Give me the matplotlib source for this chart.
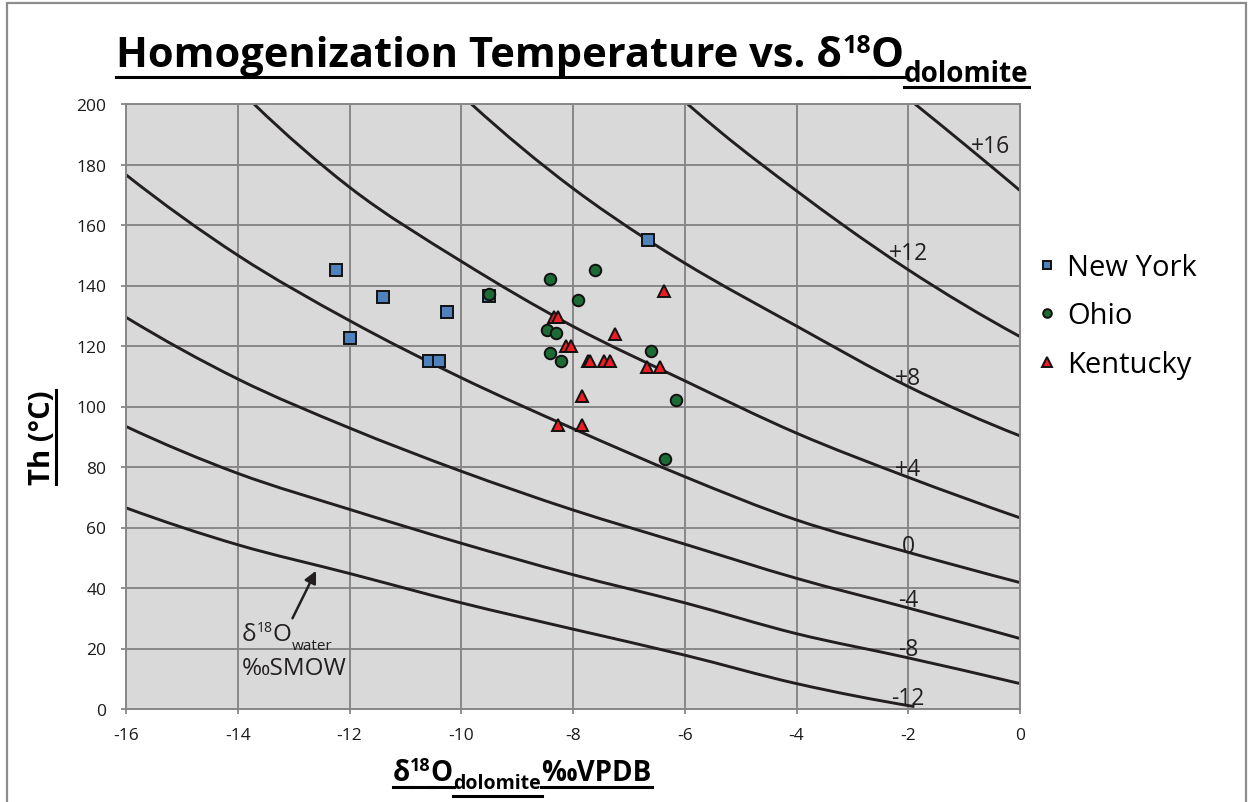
import matplotlib
matplotlib.use("Agg")
import matplotlib.pyplot as plt
from matplotlib.lines import Line2D
from matplotlib.patches import Rectangle, PathPatch
from matplotlib.path import Path

# ---------------- data ----------------
# Fluid-inclusion homogenization temperature (Th, °C) vs. δ18O of dolomite (‰ VPDB)
ny_x = [-12.25, -11.40, -10.25, -12.00, -10.57, -10.40, -9.51, -6.65]
ny_t = [145.2, 136.1, 131.2, 122.7, 115.2, 115.2, 136.4, 155.2]

oh_x = [-8.41, -7.60, -9.51, -7.91, -8.47, -8.31, -6.61, -8.41, -8.21, -6.16, -6.36]
oh_t = [142.2, 145.2, 137.3, 135.2, 125.2, 124.3, 118.2, 117.7, 115.2, 102.2, 82.7]

ky_x = [-6.38, -8.34, -8.27, -7.24, -8.12, -8.03, -7.74, -7.69, -7.45, -7.33,
        -6.68, -6.44, -7.83, -8.26, -7.83]
ky_t = [138.1, 129.5, 129.5, 124.0, 119.9, 119.9, 115.2, 115.2, 115.2, 115.2,
        112.9, 112.9, 103.6, 93.8, 93.8]

# Equilibrium curves, labelled by δ18O of the water (‰ SMOW)
w16_x = [-1.88, -0.93, 0.0]
w16_t = [200.0, 185.7, 171.4]
w12_x = [-5.95, -5.37, -4.0, -3.16, -2.0, 0.0]
w12_t = [200.0, 190.9, 171.3, 159.9, 145.2, 123.1]
w8_x = [-9.82, -8.0, -6.66, -6.0, -4.0, -2.0, 0.0]
w8_t = [200.0, 172.1, 155.0, 147.4, 126.6, 106.6, 90.3]
w4_x = [-13.71, -12.0, -10.0, -8.0, -6.0, -4.0, -2.0, 0.0]
w4_t = [200.0, 172.5, 148.0, 126.5, 108.5, 91.2, 76.6, 63.2]
w0_x = [-16.0, -14.0, -12.0, -10.0, -8.0, -6.0, -4.0, -2.0, 0.0]
w0_t = [176.6, 150.0, 128.4, 109.5, 92.7, 76.8, 62.5, 51.8, 41.8]
wm4_x = [-16.0, -14.0, -12.0, -10.0, -8.0, -6.0, -4.0, -2.0, 0.0]
wm4_t = [129.5, 109.1, 92.9, 78.6, 65.8, 54.5, 43.2, 33.4, 23.3]
wm8_x = [-16.0, -14.0, -12.0, -10.0, -8.0, -6.0, -4.0, -2.0, 0.0]
wm8_t = [93.4, 77.9, 66.0, 54.8, 44.4, 35.1, 24.9, 16.9, 8.4]
wm12_x = [-16.0, -14.0, -12.0, -10.0, -8.0, -6.0, -4.0, -1.89]
wm12_t = [66.5, 54.3, 44.8, 35.1, 26.4, 17.8, 8.4, 0.8]

curve_names = ["+16", "+12", "+8", "+4", "0", "-4", "-8", "-12"]
curve_xs = [w16_x, w12_x, w8_x, w4_x, w0_x, wm4_x, wm8_x, wm12_x]
curve_ts = [w16_t, w12_t, w8_t, w4_t, w0_t, wm4_t, wm8_t, wm12_t]

x_ticks = list(range(-16, 1, 2))
y_ticks = list(range(0, 201, 20))

# ---------------- figure ----------------
plt.rcParams['font.family'] = ['Open Sans', 'DejaVu Sans']
plt.rcParams['axes.unicode_minus'] = False

W, H, DPI = 1253, 803, 100
fig = plt.figure(figsize=(W / DPI, H / DPI), dpi=DPI)
fig.patch.set_facecolor('white')

INK = '#231f20'
GRID = '#878787'

ax = fig.add_axes([126 / W, 1 - 710 / H, 894 / W, 605 / H])
ax.set_facecolor('#d9d9d9')
ax.set_xlim(-16, 0)
ax.set_ylim(0, 200)
ax.set_xticks(x_ticks)
ax.set_yticks(y_ticks)
ax.grid(True, color=GRID, lw=1.4)
ax.set_axisbelow(True)
for sp in ax.spines.values():
    sp.set_color(GRID)
    sp.set_linewidth(1.4)
ax.tick_params(axis='both', direction='out', length=3.6, width=1.3, color=GRID,
               labelsize=12.5, labelcolor='#1a1a1a')
ax.tick_params(axis='x', pad=9.5)
ax.tick_params(axis='y', pad=10.5)


def smoothed_path(xs, ys):
    """Smoothed line through the given points (cubic Bezier segments)."""
    n = len(xs)
    d = [(ys[i + 1] - ys[i]) / (xs[i + 1] - xs[i]) for i in range(n - 1)]
    if n == 2:
        m = [d[0], d[0]]
    else:
        inner = [(d[i - 1] * (xs[i + 1] - xs[i]) + d[i] * (xs[i] - xs[i - 1]))
                 / (xs[i + 1] - xs[i - 1]) for i in range(1, n - 1)]
        m = [2 * d[0] - inner[0]] + inner + [2 * d[-1] - inner[-1]]
    verts = [(xs[0], ys[0])]
    codes = [Path.MOVETO]
    for i in range(n - 1):
        h = xs[i + 1] - xs[i]
        verts += [(xs[i] + h / 3, ys[i] + m[i] * h / 3),
                  (xs[i + 1] - h / 3, ys[i + 1] - m[i + 1] * h / 3),
                  (xs[i + 1], ys[i + 1])]
        codes += [Path.CURVE4] * 3
    return Path(verts, codes)


# equilibrium curves
for cx, ct in zip(curve_xs, curve_ts):
    ax.add_patch(PathPatch(smoothed_path(cx, ct), fill=False, edgecolor=INK, lw=2.1,
                           capstyle='butt', joinstyle='round', zorder=2))

# curve labels (baseline positions in data units)
label_pos = {"+16": (-0.53, 184.0), "+12": (-1.99, 148.7), "+8": (-2.0, 107.4),
             "+4": (-2.0, 77.3), "0": (-2.0, 51.9), "-4": (-2.0, 34.2),
             "-8": (-2.0, 17.8), "-12": (-2.0, 1.7)}
for name in curve_names:
    lx, ly = label_pos[name]
    ax.text(lx, ly, name, ha='center', va='baseline', fontsize=16.5, color=INK, zorder=3)

# samples
h_ny, = ax.plot(ny_x, ny_t, ls='none', marker='s', ms=8.3, mfc='#4f81bd', mec='#111111',
                mew=1.4, zorder=4, label='New York')
h_oh, = ax.plot(oh_x, oh_t, ls='none', marker='o', ms=8.3, mfc='#1c6b35', mec='#111111',
                mew=1.4, zorder=5, label='Ohio')
h_ky, = ax.plot(ky_x, ky_t, ls='none', marker='^', ms=9.2, mfc='#ee1c24', mec='#111111',
                mew=1.4, zorder=6, label='Kentucky')

fig.legend(handles=[h_ny, h_oh, h_ky], loc='center left',
           bbox_to_anchor=(1038 / W, 1 - 317 / H), frameon=False, fontsize=21,
           handlelength=0.6, handletextpad=0.4, labelspacing=0.66,
           borderpad=0, borderaxespad=0, markerscale=0.75)

# arrow pointing at the lowest curve
ax.annotate('', xy=(-12.60, 45.7), xytext=(-13.02, 30.0),
            arrowprops=dict(arrowstyle='-|>', color=INK, lw=1.8, mutation_scale=18,
                            shrinkA=0, shrinkB=0), zorder=3)

# ---------------- composed texts ----------------
fig.canvas.draw()
renderer = fig.canvas.get_renderer()


def text_run(x, y, pieces, color='black', weight='bold', ul_lw=2.2):
    """Lay out text pieces left to right; y is the baseline in pixels from the top.
    Each piece: (string, fontsize, rise_px, underline_y_px or None)."""
    for s, size, rise, ul in pieces:
        t = fig.text(x / W, 1 - (y - rise) / H, s, fontsize=size, fontweight=weight,
                     color=color, ha='left', va='baseline')
        w = t.get_window_extent(renderer).width
        if ul is not None:
            yy = 1 - ul / H
            fig.add_artist(Line2D([x / W, (x + w + 1) / W], [yy, yy], color=color,
                                  lw=ul_lw, transform=fig.transFigure))
        x += w
    return x


# title
text_run(116, 67, [("Homogenization Temperature vs. δ", 30, 0, 78),
                   ("18", 18, 14, 78),
                   ("O", 30, 0, 78),
                   ("dolomite", 20, -15, 88)])

# x axis title
text_run(393, 781, [("δ", 20, 0, 788),
                    ("18", 13, 10, 788),
                    ("O", 20, 0, 788),
                    ("dolomite", 14, -8, 797),
                    ("‰VPDB", 20, 0, 788)])

# y axis title
yt = fig.text(50 / W, 1 - 438 / H, "Th (°C)", rotation=90, rotation_mode='anchor',
              ha='center', va='baseline', fontsize=21, fontweight='bold', color='black')
bb = yt.get_window_extent(renderer)
fig.add_artist(Line2D([56 / W, 56 / W], [bb.y0 / H, bb.y1 / H], color='black', lw=2.2,
                      transform=fig.transFigure))

# water annotation
text_run(242, 641, [("δ", 17.5, 0, None),
                    ("18", 10, 9, None),
                    ("O", 17.5, 0, None),
                    ("water", 11, -9, None)], color=INK, weight='normal')
text_run(242, 675, [("‰SMOW", 17.5, 0, None)], color=INK, weight='normal')

# outer chart frame
fig.add_artist(Rectangle((7 / W, -0.01), (1246 - 7) / W, 1.01 - 4 / H, fill=False,
                         edgecolor='#8c8c8c', lw=1.6, transform=fig.transFigure))

fig.savefig('out.png', dpi=DPI)
